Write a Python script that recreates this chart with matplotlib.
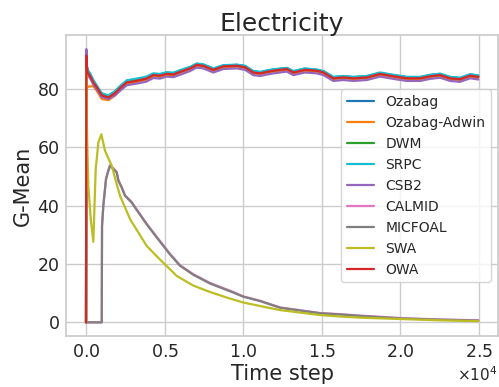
import matplotlib
matplotlib.use('Agg')
import matplotlib.pyplot as plt
import seaborn as sns

sns.set_theme(style='whitegrid')
plt.rcParams['font.family'] = ['DejaVu Sans']

# G-Mean ao longo do fluxo (Electricity)
x_top = [0, 20, 60, 120, 250, 465, 700, 1000, 1420, 1845,
         2200, 2590, 3000, 3435, 3850, 4280, 4700, 5130, 5550, 5980,
         6615, 7040, 7460, 8100, 8735, 9590, 10115, 10640, 11070, 11500,
         11915, 12770, 13190, 13930, 14675, 15100, 15730, 16370, 17005, 17855,
         18700, 19550, 20400, 21250, 21880, 22520, 23155, 23790, 24430, 24950]

ozabag = [0, 92.5, 87.5, 86.2, 85.2, 82.8, 80.8, 78.4, 77.6, 79.2,
          81.1, 82.8, 83.2, 83.6, 84.0, 85.1, 85.1, 85.6, 85.5, 86.3,
          87.5, 88.6, 88.4, 87.0, 88.1, 88.3, 87.9, 86.1, 85.8, 86.3,
          86.7, 87.2, 86.1, 87.0, 86.6, 86.1, 84.1, 84.4, 84.1, 84.4,
          85.5, 84.8, 84.1, 84.1, 84.8, 85.2, 84.1, 83.8, 85.0, 84.6]
ozabag_adwin = [0, 81.5, 81.0, 80.8, 80.9, 81.0, 79.3, 76.6, 76.2, 77.8,
                79.9, 81.9, 82.2, 82.7, 83.2, 84.4, 84.2, 84.9, 84.7, 85.6,
                86.8, 88.0, 87.7, 86.3, 87.5, 87.7, 87.2, 85.4, 85.1, 85.6,
                86.0, 86.6, 85.4, 86.3, 86.0, 85.4, 83.4, 83.7, 83.4, 83.7,
                84.9, 84.1, 83.4, 83.3, 84.1, 84.5, 83.4, 83.1, 84.3, 83.9]
dwm = [0, 91.0, 86.8, 85.6, 84.7, 82.4, 80.6, 78.0, 77.3, 78.8,
       80.7, 82.4, 82.8, 83.3, 83.7, 84.9, 84.7, 85.3, 85.1, 86.0,
       87.2, 88.4, 88.1, 86.7, 87.9, 88.1, 87.6, 85.8, 85.5, 86.0,
       86.4, 87.0, 85.8, 86.7, 86.4, 85.8, 83.8, 84.1, 83.8, 84.1,
       85.3, 84.5, 83.8, 83.8, 84.5, 84.9, 83.8, 83.5, 84.7, 84.3]
srpc = [0, 92.0, 88.0, 86.4, 85.5, 83.1, 81.1, 78.6, 77.8, 79.3,
        81.2, 83.0, 83.4, 83.8, 84.3, 85.4, 85.2, 85.8, 85.6, 86.5,
        87.6, 88.8, 88.5, 87.1, 88.2, 88.4, 88.0, 86.2, 85.9, 86.4,
        86.8, 87.3, 86.2, 87.1, 86.7, 86.2, 84.2, 84.5, 84.2, 84.5,
        85.7, 84.9, 84.2, 84.2, 84.9, 85.3, 84.2, 83.9, 85.1, 84.7]
csb2 = [0, 93.7, 86.3, 84.6, 83.8, 81.6, 79.8, 77.3, 76.6, 77.9,
        79.6, 81.3, 81.7, 82.1, 82.6, 83.8, 83.6, 84.3, 84.1, 84.9,
        86.2, 87.4, 87.1, 85.7, 86.9, 87.1, 86.6, 84.8, 84.5, 85.0,
        85.4, 86.0, 84.8, 85.7, 85.4, 84.8, 82.8, 83.1, 82.8, 83.1,
        84.3, 83.5, 82.8, 82.8, 83.5, 83.9, 82.8, 82.5, 83.7, 83.3]
owa = [0, 91.5, 87.0, 85.5, 84.6, 82.3, 80.5, 77.9, 77.1, 78.6,
       80.5, 82.3, 82.6, 83.1, 83.6, 84.8, 84.6, 85.2, 85.0, 85.9,
       87.1, 88.3, 88.0, 86.6, 87.8, 88.0, 87.5, 85.7, 85.4, 85.9,
       86.3, 86.9, 85.7, 86.6, 86.3, 85.7, 83.7, 84.0, 83.7, 84.0,
       85.2, 84.4, 83.7, 83.7, 84.4, 84.8, 83.7, 83.4, 84.6, 84.2]

x_mic = [0, 1000, 1018, 1100, 1272, 1420, 1527, 1740, 1950, 2060,
         2270, 2480, 2900, 3330, 3860, 4500, 5340, 5980, 6825, 7890,
         9370, 10000, 11070, 12340, 14890, 16160, 17430, 20190, 22500, 24950]
calmid = [0, 0, 33.2, 40.2, 49.3, 52.2, 53.9, 52.8, 51.6, 48.8,
          46.4, 43.6, 41.3, 37.9, 33.8, 29.3, 23.5, 19.6, 16.5, 13.5,
          10.4, 8.9, 7.4, 5.1, 3.2, 2.8, 2.3, 1.4, 1.0, 0.7]
micfoal = [0, 0, 33, 40, 49.1, 52, 53.7, 52.5, 51.4, 48.5,
           46.2, 43.4, 41.1, 37.7, 33.6, 29.1, 23.3, 19.4, 16.3, 13.3,
           10.2, 8.8, 7.3, 5.0, 3.1, 2.7, 2.2, 1.3, 0.9, 0.6]

x_swa = [0, 20, 60, 146, 300, 465, 615, 785, 975, 1210,
         1635, 1950, 2165, 2800, 3330, 3860, 4710, 5340, 5770, 6825,
         7890, 8950, 10000, 11070, 12340, 14890, 16160, 17430, 20190, 22500,
         24950]
swa = [0, 88, 66, 46.8, 35.4, 27.6, 52.5, 61.7, 64.5, 58.8,
       53.7, 47.4, 43.4, 35.4, 30.8, 26.2, 21.5, 18.2, 15.9, 12.6,
       10.4, 8.5, 6.8, 5.6, 4.2, 2.5, 2.0, 1.6, 1.1, 0.7,
       0.4]

series = [
    ('Ozabag', x_top, ozabag, 'tab:blue'),
    ('Ozabag-Adwin', x_top, ozabag_adwin, 'tab:orange'),
    ('DWM', x_top, dwm, 'tab:green'),
    ('SRPC', x_top, srpc, 'tab:cyan'),
    ('CSB2', x_top, csb2, 'tab:purple'),
    ('CALMID', x_mic, calmid, 'tab:pink'),
    ('MICFOAL', x_mic, micfoal, 'tab:gray'),
    ('SWA', x_swa, swa, 'tab:olive'),
    ('OWA', x_top, owa, 'tab:red'),
]

fig = plt.figure(figsize=(4.99, 3.87), dpi=100)
ax = fig.add_axes([0.1331, 0.1318, 0.8647, 0.7765])

for name, xs, ys, cor in series:
    ax.plot(xs, ys, label=name, color=cor, linewidth=1.6)

ax.set_title('Electricity', fontsize=18, pad=3)
ax.set_xlabel('Time step', fontsize=15, labelpad=2)
ax.set_ylabel('G-Mean', fontsize=15, labelpad=3)
ax.tick_params(labelsize=12.5, length=0, pad=5)
ax.set_yticks([0, 20, 40, 60, 80])
ax.ticklabel_format(axis='x', style='sci', scilimits=(0, 0), useMathText=True)
ax.xaxis.get_offset_text().set_fontsize(11)
ax.legend(loc='center right', fontsize=10)

fig.savefig('out.png', dpi=100)
